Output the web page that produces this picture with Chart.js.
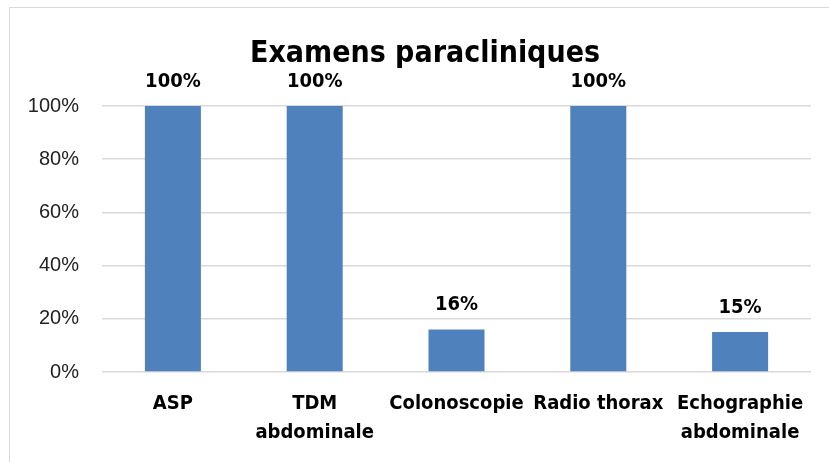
<!DOCTYPE html>
<html>
<head>
<meta charset="utf-8">
<script src="https://cdn.jsdelivr.net/npm/chart.js@4"></script>
<style>
  body { margin: 0; width: 829px; height: 462px; overflow: hidden; background: #fff; position: relative; }
  #frame { position: absolute; left: 9px; top: 7px; width: 900px; height: 520px; border: 1px solid #d9d9d9; }
  #wrap { position: absolute; left: 0; top: 0; width: 829px; height: 462px; }
</style>
</head>
<body>
<div id="frame"></div>
<div id="wrap"><canvas id="exam_chart"></canvas></div>
<script>
const ChartTitle = 'Examens paracliniques';
const ExamLabels = [
    'ASP', ['TDM', 'abdominale'], 'Colonoscopie', 'Radio thorax', ['Echographie', 'abdominale']
];
const ExamValues = [100, 100, 16, 100, 15];
const TickValues = [0, 20, 40, 60, 80, 100];

const narrow = "'Liberation Sans Narrow', 'Arial Narrow', 'DejaVu Sans Condensed', sans-serif";

// title, centred on the frame rather than the plot
const titleText = {
    id: 'titleText',
    afterDraw(chart) {
        const ctx = chart.ctx;
        ctx.save();
        ctx.font = 'bold 30px ' + narrow;
        ctx.fillStyle = '#000';
        ctx.textAlign = 'center';
        ctx.textBaseline = 'alphabetic';
        ctx.fillText(ChartTitle, 425, 62);
        ctx.restore();
    }
};

// labels above each bar
const valueLabels = {
    id: 'valueLabels',
    afterDatasetsDraw(chart) {
        const ctx = chart.ctx;
        const meta = chart.getDatasetMeta(0);
        ctx.save();
        ctx.font = 'bold 20px ' + narrow;
        ctx.fillStyle = '#000';
        ctx.textAlign = 'center';
        ctx.textBaseline = 'alphabetic';
        meta.data.forEach((bar, i) => {
            ctx.fillText(ExamValues[i] + '%', bar.x, bar.y - 19);
        });
        ctx.restore();
    }
};

const ExamData = {
    labels: ExamLabels,
    datasets: [{
        label: 'Examens',
        data: ExamValues,
        backgroundColor: '#4f81bd',
        borderWidth: 0,
        barPercentage: 0.395,
        categoryPercentage: 1
    }]
};

const ExamConfig = {
    type: 'bar',
    data: ExamData,
    options: {
        responsive: false,
        animation: false,
        layout: { padding: { left: 20, right: 18, top: 106, bottom: 0 } },
        plugins: {
            legend: { display: false },
            tooltip: { enabled: false },
            title: { display: false }
        },
        scales: {
            x: {
                grid: { display: false },
                border: { display: false },
                ticks: {
                    color: '#000',
                    font: { family: narrow, size: 20, weight: 'bold', lineHeight: 1.42 },
                    maxRotation: 0,
                    autoSkip: false,
                    padding: 10
                },
                afterFit(scale) { scale.height = 90; }
            },
            y: {
                min: 0,
                max: 100,
                afterBuildTicks(scale) { scale.ticks = TickValues.map(v => ({ value: v })); },
                grid: { color: '#d9d9d9', lineWidth: 1.5, drawTicks: false },
                border: { display: false },
                ticks: {
                    color: '#222',
                    font: { family: "'Liberation Sans', Arial, sans-serif", size: 20 },
                    padding: 23,
                    callback: v => v + '%'
                },
                afterFit(scale) { scale.width = 82; }
            }
        }
    },
    plugins: [valueLabels, titleText]
};

// === display chart ===
const canvas = document.getElementById('exam_chart');
canvas.width = 829;
canvas.height = 462;
var examChart = new Chart(canvas, ExamConfig);
</script>
</body>
</html>
